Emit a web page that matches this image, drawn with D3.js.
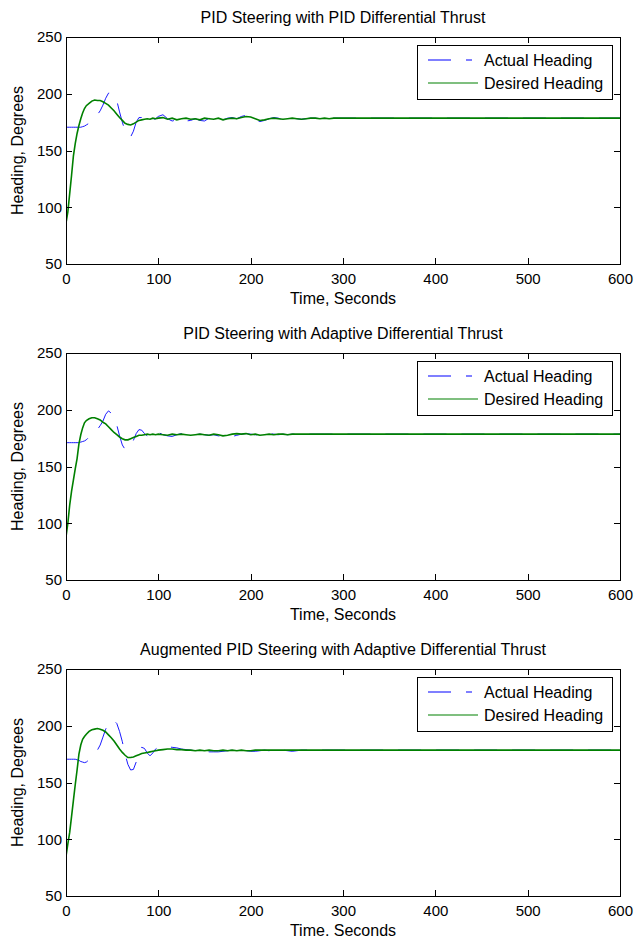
<!DOCTYPE html>
<html><head><meta charset="utf-8">
<script src="https://cdn.jsdelivr.net/npm/d3@7/dist/d3.min.js"></script>
<style>
body{margin:0;background:#fff}
text{font-family:"Liberation Sans",Arial,Helvetica,sans-serif;fill:#000}
</style>
</head><body>
<svg id="chart" width="635" height="938"></svg>
<script>
// ---------- data ----------
const time = [0,2,4,6,8,10,12,14,16,18,20,22,
  25,28,31,34,37,40,43,46,49,52,55,58,61,64,67,70,73,76,79,82,85,88,91,94,97,100,
  105,110,115,120,125,130,135,140,145,150,155,160,165,170,175,180,185,190,195,200,
  205,210,215,220,225,230,235,240,245,250,255,260,265,270,275,280,285,290,295,300,
  350,400,450,500,550,600];

const desired1 = [86,96,112,128,145,156,165,172,178,183,187,189.5,
  191.5,193.5,194.5,194,194,193,191.5,190,187.5,185,182,179,176.5,174,173,172.5,173.5,175,176.5,177,177.5,178,177.5,178.5,178,178.5,
  179,177.5,178.5,177,178,178.5,177.5,178,177,178.5,178,177.5,178.5,177,178,178.5,178,179,180,179.5,
  178,176.5,177,178,178.5,178,177.5,178,178.5,178,177.5,178,178.5,178.5,178,178.5,178,178.5,178.5,178.5,
  178.5,178.5,178.5,178.5,178.5,178.5];
const actual1 = [170.5,170.5,170.5,170.5,170.5,170.5,170.5,170.5,170.5,171,171.5,172.5,
  174,176.5,179,181.5,185,190,196,200.5,201,199,194,184,175,167,163,162,167,175,179,179,178,177.5,175,175.5,178,180,
  181.5,178,176,177,178.5,176,176.5,178,176.5,176,178.5,176,175.5,177,178.5,179,178,180,181,180,
  177,175.5,176.5,178,179,178.5,177,178,178.5,178,177.5,178,178.5,178.5,178,178.5,178,178.5,178.5,178.5,
  178.5,178.5,178.5,178.5,178.5,178.5];

const desired2 = [88,100,116,128,138,148,157,170,178,184,188.5,190.5,
  192,193,193,192,191,189,187.5,185,182.5,180,178,176,174.5,173.5,173.5,174.5,175.5,176.5,177.5,177.5,178,178.5,178,178.5,178,178.5,
  178,177.5,178.5,178,178.5,178,177.5,178,178.5,178,177.5,178.5,178,177,177.5,178.5,179,178.5,179,178,
  178.5,177.5,178,178.5,178,178.5,178.5,178,178.5,178.5,178.5,178.5,178.5,178.5,178.5,178.5,178.5,178.5,178.5,178.5,
  178.5,178.5,178.5,178.5,178.5,178.5];
const actual2 = [171,171,171,171,171,171,171,171,171.5,172,172.5,173.5,
  176,178,180,182.5,186,190,196,199,197,193,186.5,177,169,165,165,168,173,179,182.5,182,179,177,177.5,179.5,181.5,180,
  178,177,176.5,178,179,178,177.5,178,178.5,178,177.5,178,177,176,176,176.5,177.5,178.5,179,178.5,
  178,177.5,178.5,179,178.5,178,178.5,178,178.5,178.5,178.5,178.5,178.5,178.5,178.5,178.5,178.5,178.5,178.5,178.5,
  178.5,178.5,178.5,178.5,178.5,178.5];

const desired3 = [85,96,106,120,134,148,161,175,183,188,190.5,192.5,
  195,196.5,197,197.5,197,196,194.5,192,189.5,186.5,183,179.5,176.5,174,172,172,172.5,173.5,174.5,175.5,176,176.5,177,177.5,178,178.5,
  179,179.5,179.5,179,179,178.5,178.5,178,178.5,178,178.5,178,178,178.5,178,178.5,178,178.5,178,178,
  178.5,178.5,178.5,178.5,178.5,178.5,178.5,178.5,178.5,178.5,178.5,178.5,178.5,178.5,178.5,178.5,178.5,178.5,178.5,178.5,
  178.5,178.5,178.5,178.5,178.5,178.5];
const actual3 = [170.5,170.5,170.5,170.5,170.5,170.5,170,169.5,168.5,168,167.5,168,
  170,173,176,178.5,183,190,197,202,205,204.5,202,195,186,175,166,161,161.5,168,177,181,180,176,173.5,176,179.5,181,
  182,181.5,181,180.5,179.5,179,178.5,178,178,177.5,177,177,177,177.5,178,178.5,178.5,178.5,178,177.5,
  177.5,178,178.5,178,177.5,178,178.5,178,177.5,178,178.5,178.5,178.5,178.5,178.5,178.5,178.5,178.5,178.5,178.5,
  178.5,178.5,178.5,178.5,178.5,178.5];

const xTicks = [0,100,200,300,400,500,600];
const yTicks = [50,100,150,200,250];
const titles = ["PID Steering with PID Differential Thrust",
                "PID Steering with Adaptive Differential Thrust",
                "Augmented PID Steering with Adaptive Differential Thrust"];
const xLabels = ["Time, Seconds","Time, Seconds","Time. Seconds"];
const yLabel = "Heading, Degrees";
const legendLabels = ["Actual Heading","Desired Heading"];

// ---------- drawing ----------
const svg = d3.select("#chart");
const L = 66, R = 620, PH = 227;
const tops = [37, 353, 669];
const actualSeries = [actual1, actual2, actual3];
const desiredSeries = [desired1, desired2, desired3];
const blue = "#0000ff", green = "#008000";

tops.forEach((top, i) => {
  const bottom = top + PH;
  const x = d3.scaleLinear().domain([0, 600]).range([L, R]);
  const y = d3.scaleLinear().domain([50, 250]).range([bottom, top]);
  const g = svg.append("g");

  const clipId = "clip" + i;
  svg.append("clipPath").attr("id", clipId).append("rect")
    .attr("x", L).attr("y", top).attr("width", R - L).attr("height", PH);

  const line = d3.line().x((d, j) => x(time[j])).y(d => y(d));

  const plot = g.append("g").attr("clip-path", `url(#${clipId})`);
  plot.append("path").datum(actualSeries[i])
    .attr("d", line).attr("fill", "none").attr("stroke", blue)
    .attr("stroke-width", 0.9).attr("stroke-dasharray", "23,15");
  plot.append("path").datum(desiredSeries[i])
    .attr("d", line).attr("fill", "none").attr("stroke", green)
    .attr("stroke-width", 1.6);

  // axes
  const ax = g.append("g").attr("shape-rendering", "crispEdges");
  ax.append("g").attr("transform", `translate(0,${bottom})`)
    .call(d3.axisBottom(x).tickValues(xTicks).tickSizeInner(-6).tickSizeOuter(0).tickPadding(9));
  ax.append("g").attr("transform", `translate(0,${top})`)
    .call(d3.axisTop(x).tickValues(xTicks).tickSizeInner(-6).tickSizeOuter(0).tickFormat(""));
  ax.append("g").attr("transform", `translate(${L},0)`)
    .call(d3.axisLeft(y).tickValues(yTicks).tickSizeInner(-6).tickSizeOuter(0).tickPadding(4));
  ax.append("g").attr("transform", `translate(${R},0)`)
    .call(d3.axisRight(y).tickValues(yTicks).tickSizeInner(-6).tickSizeOuter(0).tickFormat(""));
  ax.selectAll(".domain").remove();
  ax.selectAll(".tick line").attr("stroke", "#000");
  ax.selectAll(".tick text").attr("font-size", 15).attr("font-family", "Liberation Sans, Arial, sans-serif").attr("fill", "#000");
  ax.append("rect").attr("x", L).attr("y", top).attr("width", R - L).attr("height", PH)
    .attr("fill", "none").attr("stroke", "#000").attr("stroke-width", 1);

  // title
  g.append("text").attr("x", (L + R) / 2).attr("y", top - 14)
    .attr("text-anchor", "middle").attr("font-size", 16).text(titles[i]);
  // x label
  g.append("text").attr("x", (L + R) / 2).attr("y", bottom + 40)
    .attr("text-anchor", "middle").attr("font-size", 16).text(xLabels[i]);
  // y label
  g.append("text").attr("transform", `translate(23,${(top + bottom) / 2}) rotate(-90)`)
    .attr("text-anchor", "middle").attr("font-size", 16).text(yLabel);

  // legend
  const lg = g.append("g");
  lg.append("rect").attr("x", 417.5).attr("y", top + 8.5).attr("width", 195).attr("height", 54)
    .attr("fill", "#fff").attr("stroke", "#000").attr("stroke-width", 1);
  const rows = [top + 23, top + 46];
  legendLabels.forEach((lab, k) => {
    lg.append("line").attr("x1", 428).attr("x2", k === 0 ? 472 : 478)
      .attr("y1", rows[k]).attr("y2", rows[k])
      .attr("stroke", k === 0 ? blue : green).attr("stroke-width", 1.2)
      .attr("stroke-dasharray", k === 0 ? "23,15" : null);
    lg.append("text").attr("x", 484).attr("y", rows[k]).attr("dy", "0.35em")
      .attr("font-size", 16).text(lab);
  });
});
</script>
</body></html>
